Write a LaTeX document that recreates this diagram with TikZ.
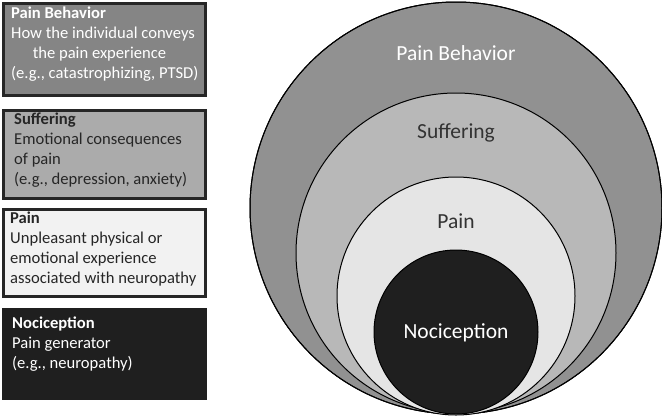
\documentclass[tikz,border=0pt]{standalone}
\usepackage{fontspec}
\setmainfont{Carlito}
\begin{document}
\begin{tikzpicture}[x=1pt,y=-1pt,
  btxt/.style={align=left,font=\fontsize{16.6}{20}\selectfont,anchor=north west,inner sep=0pt},
  ring/.style={draw=black,line width=1pt},
  clab/.style={font=\fontsize{21.5}{22}\selectfont}]
\useasboundingbox (0,0) rectangle (662,416);
\begin{scope}
\clip (0,0) rectangle (662,416);
\fill[ring,fill=black!43] (456,208) circle (206);
\draw[ring] (456,208) circle (206);
\end{scope}
\filldraw[ring,fill=black!28] (456,253) circle (160);
\filldraw[ring,fill=black!10] (456,296) circle (119);
\filldraw[ring,fill=black!88] (456,332) circle (82);
\node[clab,text=white] (lb) at (456,53) {Pain Behavior};
\node[clab,text=black!80] (ls) at (456,133) {Suffering};
\node[clab,text=black!80] (lp) at (456,221) {Pain};
\node[clab,text=white] (ln) at (456,333) {Nociception};
\filldraw[line width=3pt,draw=black!85,fill=black!48] (3.5,3.5) rectangle (205.5,95.5);
\filldraw[line width=3pt,draw=black!85,fill=black!33] (3.5,110) rectangle (205.5,198);
\filldraw[line width=3pt,draw=black!85,fill=black!5] (3.5,209) rectangle (205.5,296);
\fill[black!88] (2,308) rectangle (207,400);
\node[btxt,text=white] (t1) at (11,7) {\textbf{Pain Behavior}\\How the individual conveys\\\hspace*{1.3em}the pain experience\\(e.g., catastrophizing, PTSD)};
\node[btxt,text=black!85] (t2) at (14,113) {\textbf{Suffering}\\Emotional consequences\\of pain\\(e.g., depression, anxiety)};
\node[btxt,text=black!85] (t3) at (10,212) {\textbf{Pain}\\Unpleasant physical or\\emotional experience\\associated with neuropathy};
\node[btxt,text=white] (t4) at (12,317) {\textbf{Nociception}\\Pain generator\\(e.g., neuropathy)};
\end{tikzpicture}
\end{document}
